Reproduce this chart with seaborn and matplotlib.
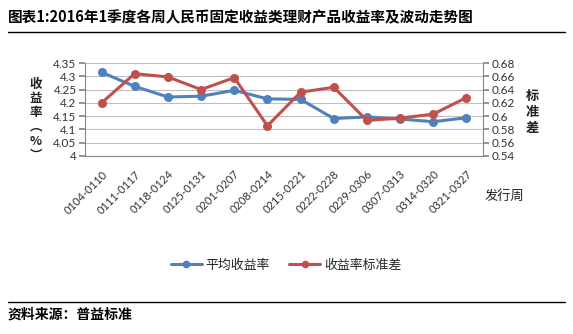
import matplotlib
matplotlib.use("Agg")
import matplotlib.pyplot as plt
import seaborn as sns
import pandas as pd
from matplotlib.ticker import FixedLocator
from matplotlib.lines import Line2D

weeks = ["0104-0110", "0111-0117", "0118-0124", "0125-0131", "0201-0207", "0208-0214",
         "0215-0221", "0222-0228", "0229-0306", "0307-0313", "0314-0320", "0321-0327"]
avg_yield = [4.315, 4.262, 4.222, 4.225, 4.247, 4.215, 4.213, 4.141, 4.147, 4.139, 4.129, 4.144]
yield_std = [0.620, 0.664, 0.659, 0.640, 0.658, 0.5855, 0.636, 0.6435, 0.5935, 0.597, 0.603, 0.628]
left_ticks = [4, 4.05, 4.1, 4.15, 4.2, 4.25, 4.3, 4.35]
right_ticks = [0.54, 0.56, 0.58, 0.6, 0.62, 0.64, 0.66, 0.68]
left_labels = ["4", "4.05", "4.1", "4.15", "4.2", "4.25", "4.3", "4.35"]
right_labels = ["0.54", "0.56", "0.58", "0.6", "0.62", "0.64", "0.66", "0.68"]

sns.set_theme(style="white")
CJK = ["Noto Sans CJK SC", "DejaVu Sans"]
NUM = ["Lato", "Noto Sans CJK SC", "DejaVu Sans"]
plt.rcParams["font.family"] = CJK

BLUE = "#4F81BD"
RED = "#C0504D"

df = pd.DataFrame({"week": weeks, "avg": avg_yield, "std": yield_std})

fig = plt.figure(figsize=(5.73, 3.34), dpi=100)
ax = fig.add_axes([85 / 573, 1 - 156 / 334, (483 - 85) / 573, (156 - 63) / 334])
ax2 = ax.twinx()

sns.lineplot(data=df, x="week", y="avg", ax=ax, color=BLUE, marker="o", markersize=6.5,
             markeredgewidth=0, linewidth=2.2, sort=False)
sns.lineplot(data=df, x="week", y="std", ax=ax2, color=RED, marker="o", markersize=6.5,
             markeredgewidth=0, linewidth=2.2, sort=False)

ax.set_xlim(-0.5, len(weeks) - 0.5)
ax.set_ylim(4, 4.35)
ax2.set_ylim(0.54, 0.68)
ax.set_yticks(left_ticks)
ax.set_yticklabels(left_labels, fontfamily=NUM, fontsize=8.5, color="#333333")
ax2.set_yticks(right_ticks)
ax2.set_yticklabels(right_labels, fontfamily=NUM, fontsize=8.5, color="#333333")
ax.set_xticks(range(len(weeks)))
ax.set_xticklabels(weeks, rotation=45, ha="right", rotation_mode="anchor",
                   fontfamily=NUM, fontsize=8, color="#333333")
ax.xaxis.set_minor_locator(FixedLocator([i - 0.5 for i in range(len(weeks) + 1)]))
ax.tick_params(axis="x", which="major", length=0, pad=9)
ax.tick_params(axis="x", which="minor", length=4, color="#888888", direction="out")
ax.tick_params(axis="y", length=4, color="#888888", direction="out", pad=2)
ax2.tick_params(axis="y", length=4, color="#888888", direction="out", pad=2)

ax.grid(axis="y", color="#BFBFBF", linewidth=0.8)
ax.set_axisbelow(True)
for a in (ax, ax2):
    for s in a.spines.values():
        s.set_visible(False)
ax.spines["left"].set_visible(True)
ax.spines["bottom"].set_visible(True)
ax2.spines["right"].set_visible(True)
for sp in (ax.spines["left"], ax.spines["bottom"], ax2.spines["right"]):
    sp.set_color("#888888")
    sp.set_linewidth(0.8)
ax.set_xlabel("")
ax.set_ylabel("")
ax2.set_ylabel("")

# stacked axis titles
fig.text(36 / 573, 1 - 120 / 334, "收\n益\n率\n︵\n%\n︶", ha="center", va="center",
         fontsize=9, fontweight="bold", linespacing=1.12, color="#222222")
fig.text(532 / 573, 1 - 112 / 334, "标\n准\n差", ha="center", va="center",
         fontsize=9.5, fontweight="bold", linespacing=1.2, color="#222222")
fig.text(504 / 573, 1 - 196 / 334, "发行周", ha="center", va="center",
         fontsize=9.5, color="#222222")

# title and rules
fig.text(8 / 573, 1 - 17 / 334, "图表1:2016年1季度各周人民币固定收益类理财产品收益率及波动走势图",
         ha="left", va="center", fontsize=10.5, fontweight="bold", color="black")
fig.add_artist(Line2D([8 / 573, 565 / 573], [1 - 32 / 334, 1 - 32 / 334],
                      color="black", linewidth=1.0, transform=fig.transFigure))
fig.add_artist(Line2D([8 / 573, 565 / 573], [1 - 302 / 334, 1 - 302 / 334],
                      color="black", linewidth=1.0, transform=fig.transFigure))
fig.text(8 / 573, 1 - 315 / 334, "资料来源：普益标准", ha="left", va="center",
         fontsize=10, fontweight="bold", color="black")

handles = [Line2D([], [], color=BLUE, marker="o", markersize=4.5, linewidth=2.2),
           Line2D([], [], color=RED, marker="o", markersize=4.5, linewidth=2.2)]
fig.legend(handles, ["平均收益率", "收益率标准差"], loc="center", ncol=2,
           bbox_to_anchor=(286 / 573, 1 - 265 / 334), frameon=False, fontsize=9.3,
           handlelength=2.4, columnspacing=1.5, handletextpad=0.3)

fig.savefig("out.png", dpi=100)
